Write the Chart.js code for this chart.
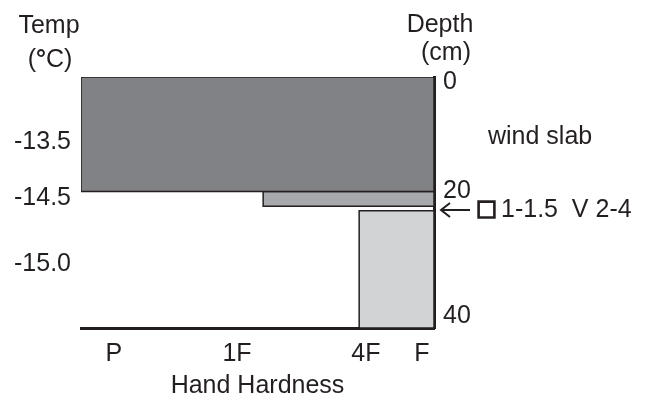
<!DOCTYPE html>
<html>
<head>
<meta charset="utf-8">
<script src="https://cdn.jsdelivr.net/npm/chart.js@4.4.1/dist/chart.umd.min.js"></script>
<style>
  html, body { margin: 0; padding: 0; background: #fff; }
  #wrap { width: 647px; height: 402px; }
</style>
</head>
<body>
<div id="wrap"><canvas id="profile"></canvas></div>
<script>
// Snow layers (depth in cm from the surface, hardness as position along the axis, 0 = right edge)
const layerTop = [0, 18.25, 21.3];
const layerBottom = [18.25, 20.6, 40];
const layerHardness = [100, 48.4, 21.2];
const layerColors = ["#808285", "#a7a9ac", "#d1d3d4"];

// Hand hardness tick labels
const hardnessLabels = ["P", "1F", "4F", "F"];
const hardnessValues = [90.7, 55.8, 19.3, 3.4];

// Depth tick labels
const depthLabels = ["0", "20", "40"];
const depthLabelDepths = [0.8, 18.2, 38.1];

// Temperature readings
const tempLabels = ["-13.5", "-14.5", "-15.0"];
const tempDepths = [10.3, 19.3, 29.8];

// Notes
const slabNote = "wind slab";
const slabNoteDepth = 9.6;
const grainSymbol = "\u25A1";
const weakLayerNote = "1-1.5  V 2-4";
const weakLayerDepth = 21.2;

const ink = "#231f20";
const font = "'Liberation Sans', Arial, sans-serif";
const fontSize = 25;

// one closed rectangle per layer
const datasets = layerTop.map((top, i) => ({
    data: [
        { x: 0, y: top },
        { x: layerHardness[i], y: top },
        { x: layerHardness[i], y: layerBottom[i] },
        { x: 0, y: layerBottom[i] },
        { x: 0, y: top }
    ],
    showLine: true,
    fill: "shape",
    backgroundColor: layerColors[i],
    borderColor: ink,
    borderWidth: 1.5,
    pointRadius: 0,
    tension: 0
}));

const notesPlugin = {
    id: "notes",
    afterDraw(chart) {
        const ctx = chart.ctx;
        const y = chart.scales.y;
        const area = chart.chartArea;
        const reg = fontSize + "px " + font;
        const bold = "bold " + fontSize + "px " + font;
        ctx.save();
        ctx.fillStyle = ink;
        ctx.strokeStyle = ink;
        ctx.font = reg;
        ctx.textBaseline = "alphabetic";

        ctx.textAlign = "center";
        ctx.fillText("Temp", 49, 33);
        ctx.fillText("Depth", 440, 32);
        ctx.fillText("(cm)", 446, 60);

        // (°C) with a heavier degree ring
        ctx.textAlign = "left";
        const parts = [["(", reg], ["\u00B0", bold], ["C)", reg]];
        let total = 0;
        parts.forEach(p => { ctx.font = p[1]; total += ctx.measureText(p[0]).width; });
        let px = 50 - total / 2;
        parts.forEach(p => { ctx.font = p[1]; ctx.fillText(p[0], px, 67); px += ctx.measureText(p[0]).width; });

        ctx.font = reg;
        ctx.textBaseline = "middle";
        ctx.fillText(slabNote, 488, y.getPixelForValue(slabNoteDepth));

        const wy = y.getPixelForValue(weakLayerDepth);
        // grain form symbol, stroked to make it heavier
        ctx.font = "28px " + font;
        ctx.lineWidth = 1.6;
        ctx.fillText(grainSymbol, 478, wy);
        ctx.strokeText(grainSymbol, 478, wy);
        ctx.font = reg;
        ctx.fillText(weakLayerNote, 501, wy);

        // arrow pointing at the weak layer
        const ax = area.right + 7;
        ctx.lineWidth = 2;
        ctx.beginPath();
        ctx.moveTo(ax, wy);
        ctx.lineTo(ax + 29, wy);
        ctx.moveTo(ax + 9, wy - 7);
        ctx.lineTo(ax, wy);
        ctx.lineTo(ax + 9, wy + 7);
        ctx.stroke();
        ctx.restore();
    }
};

new Chart(document.getElementById("profile"), {
    type: "scatter",
    data: { datasets: datasets },
    options: {
        responsive: true,
        maintainAspectRatio: false,
        animation: false,
        layout: { padding: { top: 77, left: 0, right: 0, bottom: 0 } },
        plugins: {
            legend: { display: false },
            tooltip: { enabled: false }
        },
        scales: {
            x: {
                type: "linear",
                reverse: true,
                min: 0,
                max: 100,
                grid: { display: false, drawTicks: false },
                border: { display: true, color: ink, width: 3 },
                afterBuildTicks: (s) => { s.ticks = hardnessValues.map(v => ({ value: v })); },
                afterFit: (s) => { s.height = 74; },
                ticks: {
                    autoSkip: false,
                    maxRotation: 0,
                    padding: 11,
                    color: ink,
                    font: { family: font, size: fontSize },
                    callback: (v, i) => hardnessLabels[i]
                },
                title: {
                    display: true,
                    text: "Hand Hardness",
                    color: ink,
                    font: { family: font, size: fontSize },
                    padding: { top: 0, bottom: 1 }
                }
            },
            y: {
                type: "linear",
                position: "right",
                reverse: true,
                min: 0,
                max: 40,
                grid: { display: false, drawTicks: false },
                border: { display: true, color: ink, width: 3 },
                afterBuildTicks: (s) => { s.ticks = depthLabelDepths.map(v => ({ value: v })); },
                afterFit: (s) => { s.width = 213; },
                ticks: {
                    autoSkip: false,
                    padding: 9,
                    color: ink,
                    font: { family: font, size: fontSize },
                    callback: (v, i) => depthLabels[i]
                }
            },
            temp: {
                type: "linear",
                position: "left",
                reverse: true,
                min: 0,
                max: 40,
                grid: { display: false, drawTicks: false },
                border: { display: false },
                afterBuildTicks: (s) => { s.ticks = tempDepths.map(v => ({ value: v })); },
                afterFit: (s) => { s.width = 81; },
                ticks: {
                    autoSkip: false,
                    padding: 10,
                    color: ink,
                    font: { family: font, size: fontSize },
                    callback: (v, i) => tempLabels[i]
                }
            }
        }
    },
    plugins: [notesPlugin]
});
</script>
</body>
</html>
